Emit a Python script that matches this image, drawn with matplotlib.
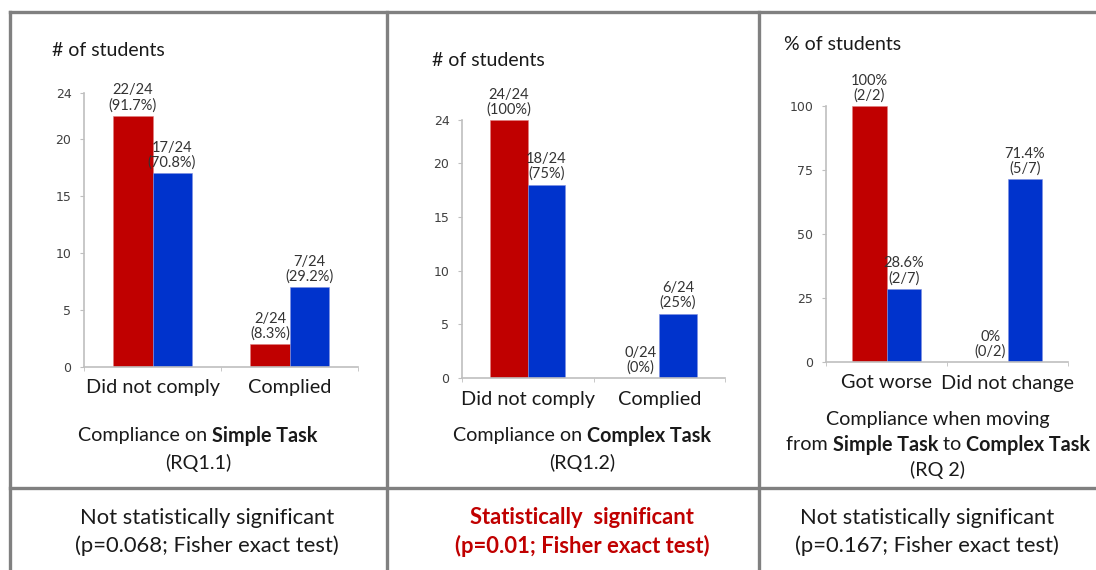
import matplotlib
matplotlib.use("Agg")
import matplotlib.pyplot as plt
from matplotlib.lines import Line2D

plt.rcParams['font.family'] = ['Lato', 'DejaVu Sans']

# ---- data -------------------------------------------------------------
rq11_categories = ["Did not comply", "Complied"]
rq11_red = [22, 2]
rq11_blue = [17, 7]
rq11_total = 24

rq12_categories = ["Did not comply", "Complied"]
rq12_red = [24, 0]
rq12_blue = [18, 6]
rq12_total = 24

rq2_categories = ["Got worse", "Did not change"]
rq2_red_num = [2, 0]
rq2_red_den = [2, 2]
rq2_blue_num = [2, 5]
rq2_blue_den = [7, 7]

RED = "#C00000"
BLUE = "#0033CC"
GRID = "#808080"
AXIS = "#BFBFBF"

W, H = 1096, 570
fig = plt.figure(figsize=(W / 100, H / 100), dpi=100)
fig.patch.set_facecolor("white")


def fx(x):
    return x / W


def fy(y):
    return 1 - y / H


def pct(num, den):
    p = round(100.0 * num / den, 1)
    return f"{p:g}%"


# ---- table frame ------------------------------------------------------
for x in (10, 387, 759):
    fig.add_artist(Line2D([fx(x), fx(x)], [fy(12), fy(570)], color=GRID, lw=2.4))
fig.add_artist(Line2D([fx(10), fx(1096)], [fy(12), fy(12)], color=GRID, lw=2.4))
fig.add_artist(Line2D([fx(10), fx(1096)], [fy(488), fy(488)], color=GRID, lw=2.4))


def make_axes(x0, x1, ytop, ybot, ymax, yticks, cats, red, blue, red_lbl, blue_lbl):
    ax = fig.add_axes([fx(x0), fy(ybot), (x1 - x0) / W, (ybot - ytop) / H])
    pos = [0, 1]
    w = 0.285
    ax.bar([p - w / 2 for p in pos], red, width=w, color=RED, edgecolor="#E08080", linewidth=0.4)
    ax.bar([p + w / 2 for p in pos], blue, width=w, color=BLUE, edgecolor="#8090E0", linewidth=0.4)
    for p, v, s in zip(pos, red, red_lbl):
        ax.annotate(s, (p - w / 2, v), xytext=(0, 2.5), textcoords="offset points",
                    ha="center", va="bottom", fontsize=10.5, color="#333333", linespacing=1.05)
    for p, v, s in zip(pos, blue, blue_lbl):
        ax.annotate(s, (p + w / 2, v), xytext=(0, 2.5), textcoords="offset points",
                    ha="center", va="bottom", fontsize=10.5, color="#333333", linespacing=1.05)
    ax.set_xlim(-0.5, 1.5)
    ax.set_ylim(0, ymax)
    ax.set_yticks(yticks)
    ax.set_yticklabels([str(t) for t in yticks], fontsize=9, color="#404040",
                       family="DejaVu Sans")
    ax.set_xticks(pos)
    ax.set_xticklabels(cats, fontsize=14.3, color="#1a1a1a")
    ax.set_xticks([-0.5, 0.5, 1.5], minor=True)
    ax.tick_params(axis="x", which="major", length=0, pad=9)
    ax.tick_params(axis="x", which="minor", length=3, color=AXIS)
    ax.tick_params(axis="y", length=3, color=AXIS, pad=6)
    for side in ("top", "right"):
        ax.spines[side].set_visible(False)
    for side in ("left", "bottom"):
        ax.spines[side].set_color(AXIS)
        ax.spines[side].set_linewidth(1.2)
    ax.patch.set_alpha(0)
    return ax


make_axes(84, 358, 93, 367, 24, [0, 5, 10, 15, 20, 24], rq11_categories,
          rq11_red, rq11_blue,
          [f"{v}/{rq11_total}\n({pct(v, rq11_total)})" for v in rq11_red],
          [f"{v}/{rq11_total}\n({pct(v, rq11_total)})" for v in rq11_blue])

make_axes(462, 725, 120, 378, 24, [0, 5, 10, 15, 20, 24], rq12_categories,
          rq12_red, rq12_blue,
          [f"{v}/{rq12_total}\n({pct(v, rq12_total)})" for v in rq12_red],
          [f"{v}/{rq12_total}\n({pct(v, rq12_total)})" for v in rq12_blue])

rq2_red = [100.0 * n / d for n, d in zip(rq2_red_num, rq2_red_den)]
rq2_blue = [100.0 * n / d for n, d in zip(rq2_blue_num, rq2_blue_den)]
make_axes(826, 1068, 106, 362, 100, [0, 25, 50, 75, 100], rq2_categories,
          rq2_red, rq2_blue,
          [f"{pct(n, d)}\n({n}/{d})" for n, d in zip(rq2_red_num, rq2_red_den)],
          [f"{pct(n, d)}\n({n}/{d})" for n, d in zip(rq2_blue_num, rq2_blue_den)])

# ---- axis captions ----------------------------------------------------
fig.text(fx(52), fy(50), "# of students", fontsize=14, va="center", color="#1a1a1a")
fig.text(fx(432), fy(60), "# of students", fontsize=14, va="center", color="#1a1a1a")
fig.text(fx(784), fy(45), "% of students", fontsize=14, va="center", color="#1a1a1a")

# ---- mixed-weight titles ----------------------------------------------
renderer = fig.canvas.get_renderer()


def rich_line(xc, y, parts, size=14.2, color="#1a1a1a"):
    texts = []
    widths = []
    for s, wt in parts:
        t = fig.text(0, fy(y), s, fontsize=size, fontweight=wt, va="center", color=color)
        bb = t.get_window_extent(renderer)
        texts.append(t)
        widths.append(bb.width)
    x = xc - sum(widths) / 2
    for t, wd in zip(texts, widths):
        t.set_x(fx(x))
        x += wd


rich_line(198, 436, [("Compliance on ", "normal"), ("Simple Task", "bold")])
rich_line(198, 463, [("(RQ1.1)", "normal")])
rich_line(582, 436, [("Compliance on ", "normal"), ("Complex Task", "bold")])
rich_line(582, 463, [("(RQ1.2)", "normal")])
rich_line(938, 419, [("Compliance when moving", "normal")])
rich_line(938, 445, [("from ", "normal"), ("Simple Task", "bold"), (" to ", "normal"),
                     ("Complex Task", "bold")])
rich_line(938, 470, [("(RQ 2)", "normal")])

# ---- significance row -------------------------------------------------
fig.text(fx(207), fy(532), "Not statistically significant\n(p=0.068; Fisher exact test)",
         ha="center", va="center", fontsize=15.8, linespacing=1.4, color="#1a1a1a")
fig.text(fx(582), fy(532), "Statistically  significant\n(p=0.01; Fisher exact test)",
         ha="center", va="center", fontsize=15.8, linespacing=1.4, color=RED, fontweight="bold")
fig.text(fx(927), fy(532), "Not statistically significant\n(p=0.167; Fisher exact test)",
         ha="center", va="center", fontsize=15.8, linespacing=1.4, color="#1a1a1a")

fig.savefig("out.png", dpi=100)
